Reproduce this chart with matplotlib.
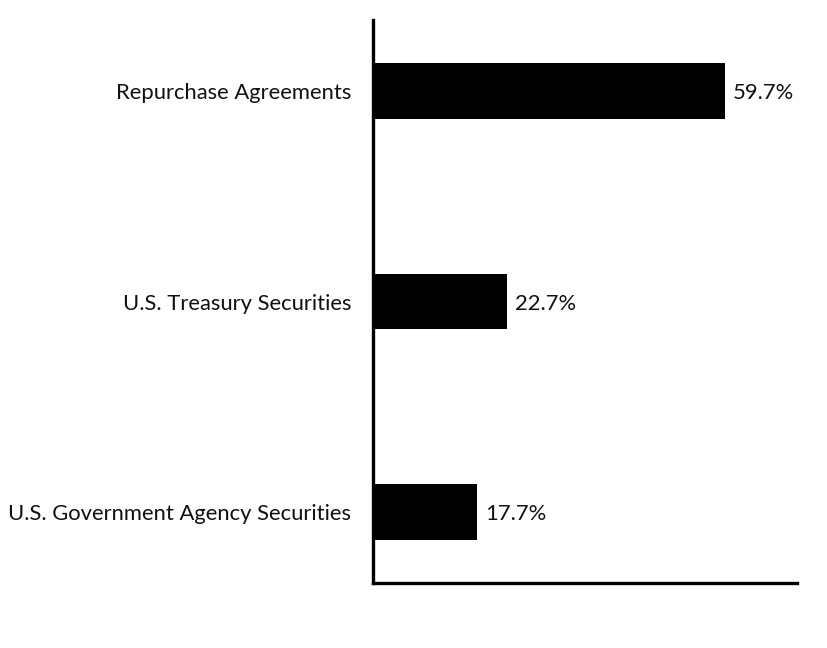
import matplotlib
matplotlib.use("Agg")
import matplotlib.pyplot as plt

categories = ["Repurchase Agreements", "U.S. Treasury Securities", "U.S. Government Agency Securities"]
values = [59.7, 22.7, 17.7]
labels = ["59.7%", "22.7%", "17.7%"]

plt.rcParams['font.family'] = ['Lato', 'DejaVu Sans']

fig = plt.figure(figsize=(8.28, 6.48), dpi=100)
ax = fig.add_axes([0.4505, 0.1003, 0.9626 - 0.4505, 0.9691 - 0.1003])

ypos = [2, 1, 0]
bars = ax.barh(ypos, values, height=0.265, color="black")
for b, lab in zip(bars, labels):
    ax.text(b.get_width() + 1.35, b.get_y() + b.get_height() / 2, lab,
            va="center_baseline", ha="left", fontsize=15.8, color="#111111")

ax.set_xlim(0, 72)
ax.set_ylim(-0.337, 2.337)
ax.set_yticks(ypos)
ax.set_yticklabels(categories, fontsize=15.8, color="#111111", va="center_baseline")
ax.set_xticks([])
ax.tick_params(axis="y", length=0, pad=15.5)
for s in ["top", "right"]:
    ax.spines[s].set_visible(False)
for s in ["left", "bottom"]:
    ax.spines[s].set_linewidth(2.4)

fig.savefig("out.png", dpi=100)
